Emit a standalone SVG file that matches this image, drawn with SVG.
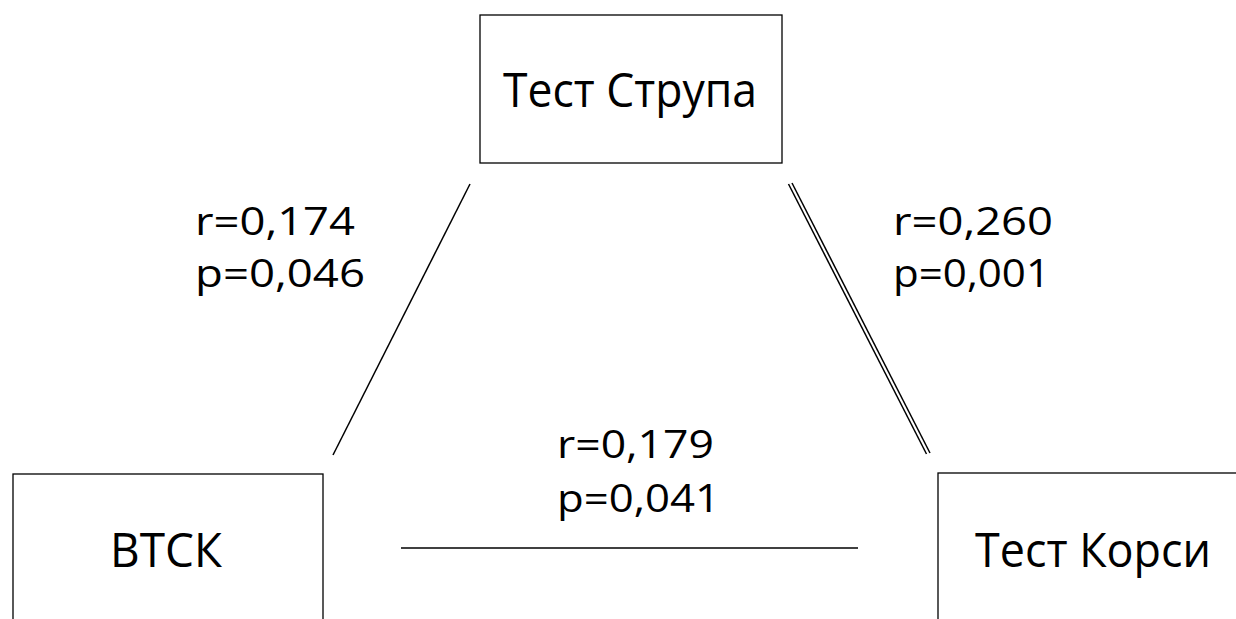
<svg xmlns="http://www.w3.org/2000/svg" width="1236" height="619" viewBox="0 0 1236 619">
<style>
.box{fill:#fff;stroke:#000;stroke-width:1.3}
.t{font-family:"Open Sans","Liberation Sans",sans-serif;font-size:47px;fill:#000}
.l{font-family:"Open Sans","Liberation Sans",sans-serif;font-size:38px;fill:#000}
.c{stroke:#000;stroke-width:1.5;fill:none}
</style>
<rect width="1236" height="619" fill="#fff"/>
<g id="connectors">
<line class="c" x1="470" y1="184" x2="333" y2="455"/>
<line class="c" x1="788.5" y1="184" x2="926.5" y2="454"/>
<line class="c" x1="792" y1="183" x2="930" y2="453"/>
<line class="c" x1="401" y1="548" x2="858" y2="548"/>
<g id="lab1"><text class="l" x="195" y="235" textLength="160" lengthAdjust="spacingAndGlyphs">r=0,174</text><text class="l" x="195" y="287" textLength="170" lengthAdjust="spacingAndGlyphs">p=0,046</text></g>
<g id="lab2"><text class="l" x="893" y="235" textLength="160" lengthAdjust="spacingAndGlyphs">r=0,260</text><text class="l" x="893" y="287" textLength="157" lengthAdjust="spacingAndGlyphs">p=0,001</text></g>
<g id="lab3"><text class="l" x="557" y="458" textLength="157" lengthAdjust="spacingAndGlyphs">r=0,179</text><text class="l" x="557" y="512" textLength="163" lengthAdjust="spacingAndGlyphs">p=0,041</text></g>
</g>
<g id="stroop"><rect class="box" x="480" y="15" width="302" height="148"/><text class="t" x="503" y="107" textLength="254" lengthAdjust="spacingAndGlyphs">Тест Струпа</text></g>
<g id="vtsk"><rect class="box" x="13" y="474" width="310" height="160"/><text class="t" x="110" y="567" textLength="112" lengthAdjust="spacingAndGlyphs">ВТСК</text></g>
<g id="korsi"><rect class="box" x="938" y="473" width="320" height="160"/><text class="t" x="975" y="567" textLength="236" lengthAdjust="spacingAndGlyphs">Тест Корси</text></g>
</svg>
